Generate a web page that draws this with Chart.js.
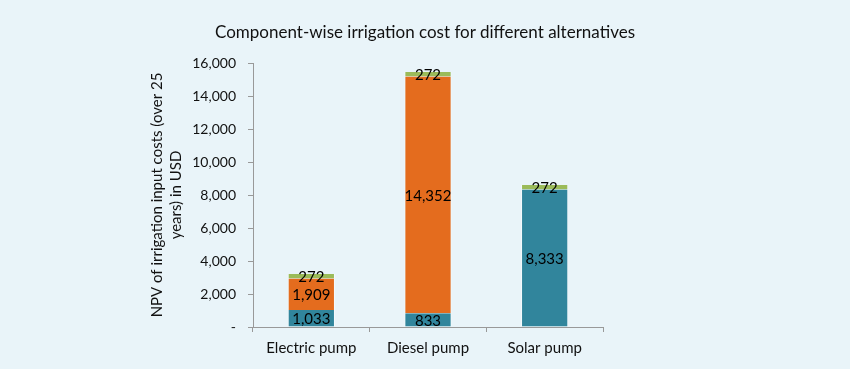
<!DOCTYPE html>
<html>
<head>
<meta charset="utf-8">
<script src="https://cdn.jsdelivr.net/npm/chart.js@4/dist/chart.umd.min.js"></script>
<style>
  html, body { margin: 0; padding: 0; background: #e9f4f9; }
  .wrap { position: relative; width: 850px; height: 369px; }
  .title { position: absolute; left: 0; top: 21px; width: 850px; text-align: center;
           font: 17px Lato, sans-serif; color: #111; }
  .legend { position: absolute; left: 607px; font: 14.5px Lato, sans-serif; color: #111; }
  .legend .item { position: absolute; left: 0; width: 140px; }
  .legend .sw { position: absolute; left: 0; top: 5px; width: 7px; height: 7px; }
  .legend .tx { margin-left: 12px; line-height: 17px; }
</style>
</head>
<body>
<div class="wrap">
  <canvas id="chart"></canvas>
  <div class="title">Component-wise irrigation cost for different alternatives</div>
  <div class="legend" id="legend"></div>
</div>
<script>
// Datos del gráfico
const categories = ['Electric pump', 'Diesel pump', 'Solar pump'];
const capitalCosts = [1033, 833, 8333];
const fuelCosts = [1909, 14352, 0];
const repairCosts = [272, 272, 272];
const yTicks = [0, 2000, 4000, 6000, 8000, 10000, 12000, 14000, 16000];

const COLORS = { capital: '#31859c', fuel: '#e46c1e', repair: '#9bbb59' };
const FONT = 'Lato, sans-serif';

// etiquetas de valor dentro de cada segmento
const valueLabels = {
  id: 'valueLabels',
  afterDatasetsDraw(chart) {
    const ctx = chart.ctx;
    ctx.save();
    ctx.font = '15px ' + FONT;
    ctx.fillStyle = '#000';
    ctx.textAlign = 'center';
    ctx.textBaseline = 'middle';
    chart.data.datasets.forEach((ds, i) => {
      chart.getDatasetMeta(i).data.forEach((bar, j) => {
        const v = ds.data[j];
        if (!v) return;
        ctx.fillText(v.toLocaleString('en-US'), bar.x, (bar.y + bar.base) / 2 + 1);
      });
    });
    ctx.restore();
  }
};

new Chart(document.getElementById('chart'), {
  type: 'bar',
  data: {
    labels: categories,
    datasets: [
      { label: 'Capital costs', data: capitalCosts, backgroundColor: COLORS.capital },
      { label: 'Fuel costs', data: fuelCosts, backgroundColor: COLORS.fuel },
      { label: 'Repair and maintenance costs', data: repairCosts, backgroundColor: COLORS.repair },
    ]
  },
  options: {
    responsive: true,
    maintainAspectRatio: false,
    animation: false,
    layout: { padding: { top: 63, right: 247, bottom: 5, left: 0 } },
    datasets: {
      bar: {
        barPercentage: 0.405, categoryPercentage: 1,
        borderWidth: { left: 1, right: 1, top: 0, bottom: 0 },
        borderSkipped: false,
        borderColor: 'rgba(255,255,255,0.55)'
      }
    },
    plugins: {
      legend: { display: false },
      tooltip: { enabled: false },
      title: { display: false }
    },
    scales: {
      x: {
        stacked: true,
        offset: true,
        border: { color: '#999' },
        grid: { offset: true, drawOnChartArea: false, tickLength: 5, color: '#999' },
        ticks: { color: '#111', padding: 7, font: { family: FONT, size: 15 } },
      },
      y: {
        stacked: true,
        min: 0, max: 16000,
        afterBuildTicks: s => { s.ticks = yTicks.map(v => ({ value: v })); },
        afterFit: s => { s.width = 253; },
        border: { color: '#999' },
        grid: { drawOnChartArea: false, tickLength: 5, color: '#999' },
        ticks: {
          color: '#111', padding: 12,
          font: { family: FONT, size: 14 },
          callback: v => v === 0 ? '-' : v.toLocaleString('en-US'),
        },
        title: {
          display: true,
          text: ['NPV of irrigation input costs (over 25', 'years) in USD'],
          color: '#111',
          font: { family: FONT, size: 15, lineHeight: 1.3 },
          padding: { top: 147, bottom: 0 },
        }
      }
    }
  },
  plugins: [valueLabels]
});

// leyenda en HTML (orden invertido, como en el original)
const legendItems = [
  { text: 'Repair and<br>maintenance<br>costs', color: COLORS.repair, top: 87 },
  { text: 'Fuel costs', color: COLORS.fuel, top: 157 },
  { text: 'Capital costs', color: COLORS.capital, top: 227 },
];
document.getElementById('legend').innerHTML = legendItems.map(it => `
  <div class="item" style="top:${it.top}px">
    <div class="sw" style="background:${it.color}"></div>
    <div class="tx">${it.text}</div>
  </div>`).join('');
</script>
</body>
</html>
